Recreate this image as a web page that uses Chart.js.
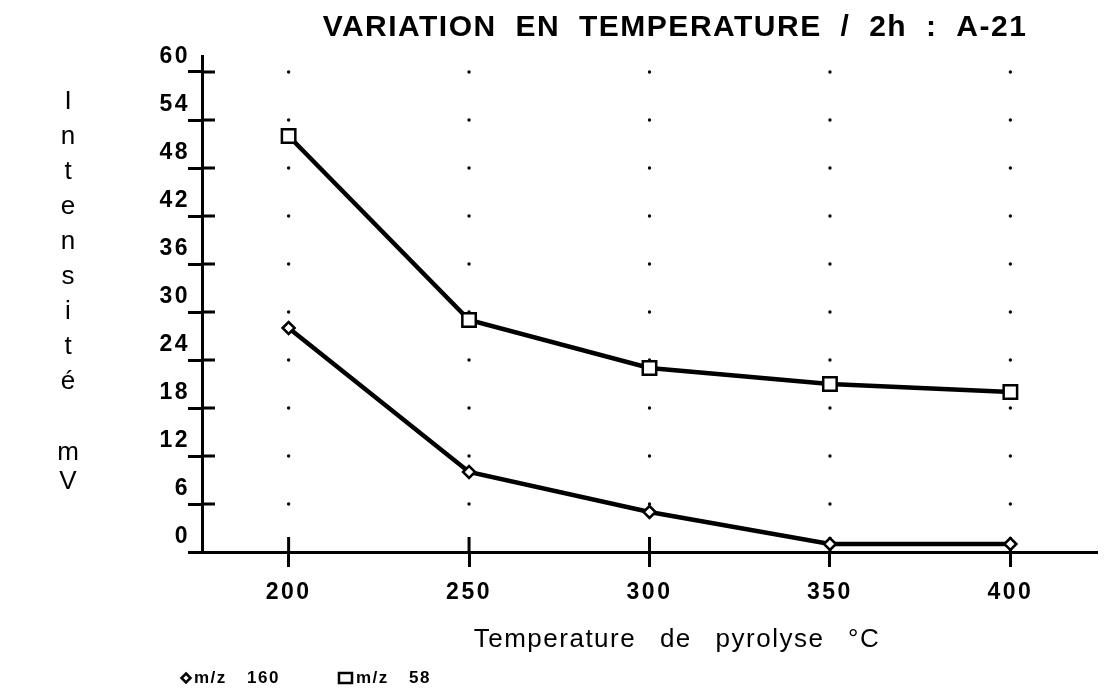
<!DOCTYPE html>
<html>
<head>
<meta charset="utf-8">
<script src="https://cdn.jsdelivr.net/npm/chart.js@4.4.1/dist/chart.umd.min.js"></script>
<style>
  html, body { margin: 0; padding: 0; background: #fff; }
  #wrap { width: 1109px; height: 690px; }
</style>
</head>
<body>
<div id="wrap"><canvas id="chart"></canvas></div>
<script>
// Pyrolysis temperatures (°C) and measured intensities (mV)
const temperatures = [200, 250, 300, 350, 400];
const mz160 = [28, 10, 5, 1, 1];
const mz58 = [52, 29, 23, 21, 20];
const yTicks = [0, 6, 12, 18, 24, 30, 36, 42, 48, 54, 60];

const seriesNames = ['m/z 160', 'm/z 58'];
const chartTitle = 'VARIATION EN TEMPERATURE / 2h : A-21';
const xTitle = 'Temperature de pyrolyse °C';
const yTitleWord = ['I', 'n', 't', 'e', 'n', 's', 'i', 't', 'é'];
const yTitleUnit = ['m', 'V'];

const FONT = "Arial, 'Liberation Sans', Helvetica, sans-serif";

const toPoints = (vals) => temperatures.map((t, i) => ({ x: t, y: vals[i] }));

// dotted grid, inner tick halves and the free-standing texts
const decorations = {
  id: 'decorations',
  beforeDraw(chart) {
    chart.ctx.letterSpacing = '2.5px';
  },
  beforeDatasetsDraw(chart) {
    const { ctx, scales: { x, y } } = chart;
    ctx.letterSpacing = '0px';
    ctx.save();
    ctx.fillStyle = '#000';
    temperatures.forEach((t) => {
      const px = x.getPixelForValue(t);
      yTicks.slice(1).forEach((v) => {
        ctx.beginPath();
        ctx.arc(px, y.getPixelForValue(v), 1.7, 0, Math.PI * 2);
        ctx.fill();
      });
    });
    ctx.strokeStyle = '#000';
    ctx.lineWidth = 3;
    temperatures.forEach((t) => {
      const px = x.getPixelForValue(t);
      ctx.beginPath();
      ctx.moveTo(px, y.bottom);
      ctx.lineTo(px, y.bottom - 15);
      ctx.stroke();
    });
    yTicks.slice(1).forEach((v) => {
      const py = y.getPixelForValue(v);
      ctx.beginPath();
      ctx.moveTo(x.left, py);
      ctx.lineTo(x.left + 13, py);
      ctx.stroke();
    });
    ctx.restore();
  },
  afterDraw(chart) {
    const { ctx } = chart;
    ctx.save();
    ctx.fillStyle = '#000';
    ctx.textAlign = 'center';
    ctx.textBaseline = 'middle';

    // main title
    ctx.font = `bold 30px ${FONT}`;
    ctx.letterSpacing = '1.5px';
    ctx.wordSpacing = '9px';
    ctx.fillText(chartTitle, 675, 28);

    // x axis title
    ctx.font = `26px ${FONT}`;
    ctx.letterSpacing = '1.5px';
    ctx.wordSpacing = '15px';
    ctx.fillText(xTitle, 677, 640);

    // y axis title, one letter per line
    ctx.letterSpacing = '0px';
    ctx.wordSpacing = '0px';
    ctx.font = `26px ${FONT}`;
    yTitleWord.forEach((ch, i) => ctx.fillText(ch, 68, 102 + i * 35));
    yTitleUnit.forEach((ch, i) => ctx.fillText(ch, 68, 453 + i * 29));

    // legend
    const ly = 678;
    ctx.strokeStyle = '#000';
    ctx.lineWidth = 2.5;
    ctx.fillStyle = '#fff';
    ctx.beginPath();
    ctx.moveTo(186, ly - 4.5);
    ctx.lineTo(190.5, ly);
    ctx.lineTo(186, ly + 4.5);
    ctx.lineTo(181.5, ly);
    ctx.closePath();
    ctx.fill();
    ctx.stroke();
    ctx.beginPath();
    ctx.rect(339, ly - 5, 13, 10);
    ctx.fill();
    ctx.stroke();

    ctx.fillStyle = '#000';
    ctx.textAlign = 'left';
    ctx.font = `bold 17px ${FONT}`;
    ctx.letterSpacing = '1.5px';
    ctx.wordSpacing = '14px';
    ctx.fillText(seriesNames[0], 194, ly);
    ctx.fillText(seriesNames[1], 356, ly);
    ctx.restore();
  }
};

const lineStyle = {
  borderColor: '#000',
  borderWidth: 4.5,
  pointBackgroundColor: '#fff',
  pointBorderColor: '#000',
  pointBorderWidth: 2.5,
  tension: 0,
  fill: false
};

new Chart(document.getElementById('chart'), {
  type: 'line',
  data: {
    datasets: [
      { ...lineStyle, label: seriesNames[0], data: toPoints(mz160), pointStyle: 'rectRot', pointRadius: 6 },
      { ...lineStyle, label: seriesNames[1], data: toPoints(mz58), pointStyle: 'rect', pointRadius: 9.5 }
    ]
  },
  options: {
    responsive: true,
    maintainAspectRatio: false,
    animation: false,
    events: [],
    layout: { padding: { top: 56, right: 4, bottom: 0, left: 0 } },
    plugins: {
      legend: { display: false },
      title: { display: false },
      tooltip: { enabled: false }
    },
    scales: {
      x: {
        type: 'linear',
        min: 176,
        max: 424,
        afterBuildTicks: (scale) => { scale.ticks = temperatures.map((v) => ({ value: v })); },
        afterFit: (scale) => { scale.height = 138; },
        border: { display: true, color: '#000', width: 3 },
        grid: { drawOnChartArea: false, drawTicks: true, tickLength: 15, tickWidth: 3, tickColor: '#000' },
        ticks: {
          color: '#000',
          padding: 12,
          maxRotation: 0,
          font: { family: FONT, size: 23, weight: 'bold' },
          callback: (v) => String(v)
        }
      },
      y: {
        type: 'linear',
        min: 0,
        max: 62,
        afterBuildTicks: (scale) => { scale.ticks = yTicks.map((v) => ({ value: v })); },
        afterFit: (scale) => { scale.width = 202; },
        border: { display: true, color: '#000', width: 3 },
        grid: { drawOnChartArea: false, drawTicks: true, tickLength: 14, tickWidth: 3, tickColor: '#000' },
        ticks: {
          color: '#000',
          padding: -2,
          labelOffset: -15,
          font: { family: FONT, size: 23, weight: 'bold' },
          callback: (v) => String(v)
        }
      }
    }
  },
  plugins: [decorations]
});
</script>
</body>
</html>
